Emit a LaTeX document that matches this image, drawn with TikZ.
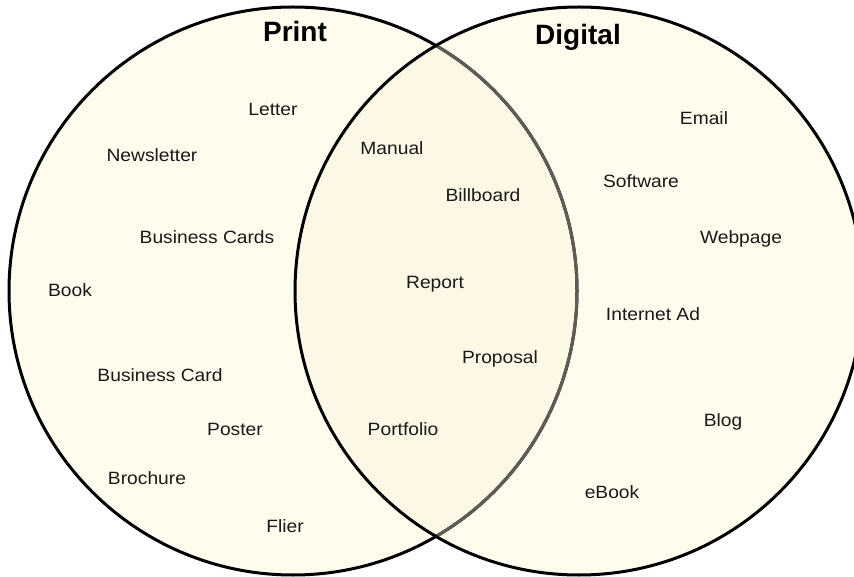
\documentclass[tikz,border=0pt]{standalone}
\usepackage{fontspec}
\setmainfont{Liberation Sans}
\newfontfamily\labfont{Liberation Sans}[FakeStretch=1.08]
\definecolor{cream}{HTML}{FFFCEE}
\definecolor{overlap}{HTML}{FDF8E5}
\definecolor{greyline}{HTML}{5E5C55}
\tikzset{
  lab/.style={anchor=base, inner sep=0pt, font=\labfont\fontsize{17.8}{20}\selectfont, text=black!90},
  title/.style={anchor=base, inner sep=0pt, font=\bfseries\fontsize{28}{32}\selectfont},
  ring/.style={line width=3pt, draw=black},
}
\begin{document}
\begin{tikzpicture}[x=1pt,y=-1pt]
\useasboundingbox (0,0) rectangle (854,577);
\fill[white] (0,0) rectangle (854,577);
\coordinate (L) at (293,291);
\coordinate (R) at (579,291);
\fill[cream] (L) circle (284);
\fill[cream] (R) circle (284);
\begin{scope}
  \clip (L) circle (284);
  \fill[overlap] (R) circle (284);
\end{scope}
\draw[ring] (L) circle (284);
\begin{scope}
  \clip (R) circle (284);
  \draw[line width=3pt, greyline] (L) circle (284);
\end{scope}
\draw[ring] (R) circle (284);

\node[title] (print) at (295,42) {Print};
\node[title] (digital) at (578,45) {Digital};

\node[lab] (letter) at (273,116) {Letter};
\node[lab] (newsletter) at (152,162) {Newsletter};
\node[lab] (bcards) at (207,244) {Business Cards};
\node[lab] (book) at (70,297) {Book};
\node[lab] (bcard) at (160,381) {Business Card};
\node[lab] (poster) at (235,435) {Poster};
\node[lab] (brochure) at (147,484) {Brochure};
\node[lab] (flier) at (285,532) {Flier};

\node[lab] (manual) at (392,155) {Manual};
\node[lab] (billboard) at (483,202) {Billboard};
\node[lab] (report) at (435,289) {Report};
\node[lab] (proposal) at (500,363) {Proposal};
\node[lab] (portfolio) at (403,435) {Portfolio};

\node[lab] (email) at (704,125) {Email};
\node[lab] (software) at (641,188) {Software};
\node[lab] (webpage) at (741,244) {Webpage};
\node[lab] (netad) at (653,320) {Internet Ad};
\node[lab] (blog) at (723,426) {Blog};
\node[lab] (ebook) at (612,498) {eBook};
\end{tikzpicture}
\end{document}
